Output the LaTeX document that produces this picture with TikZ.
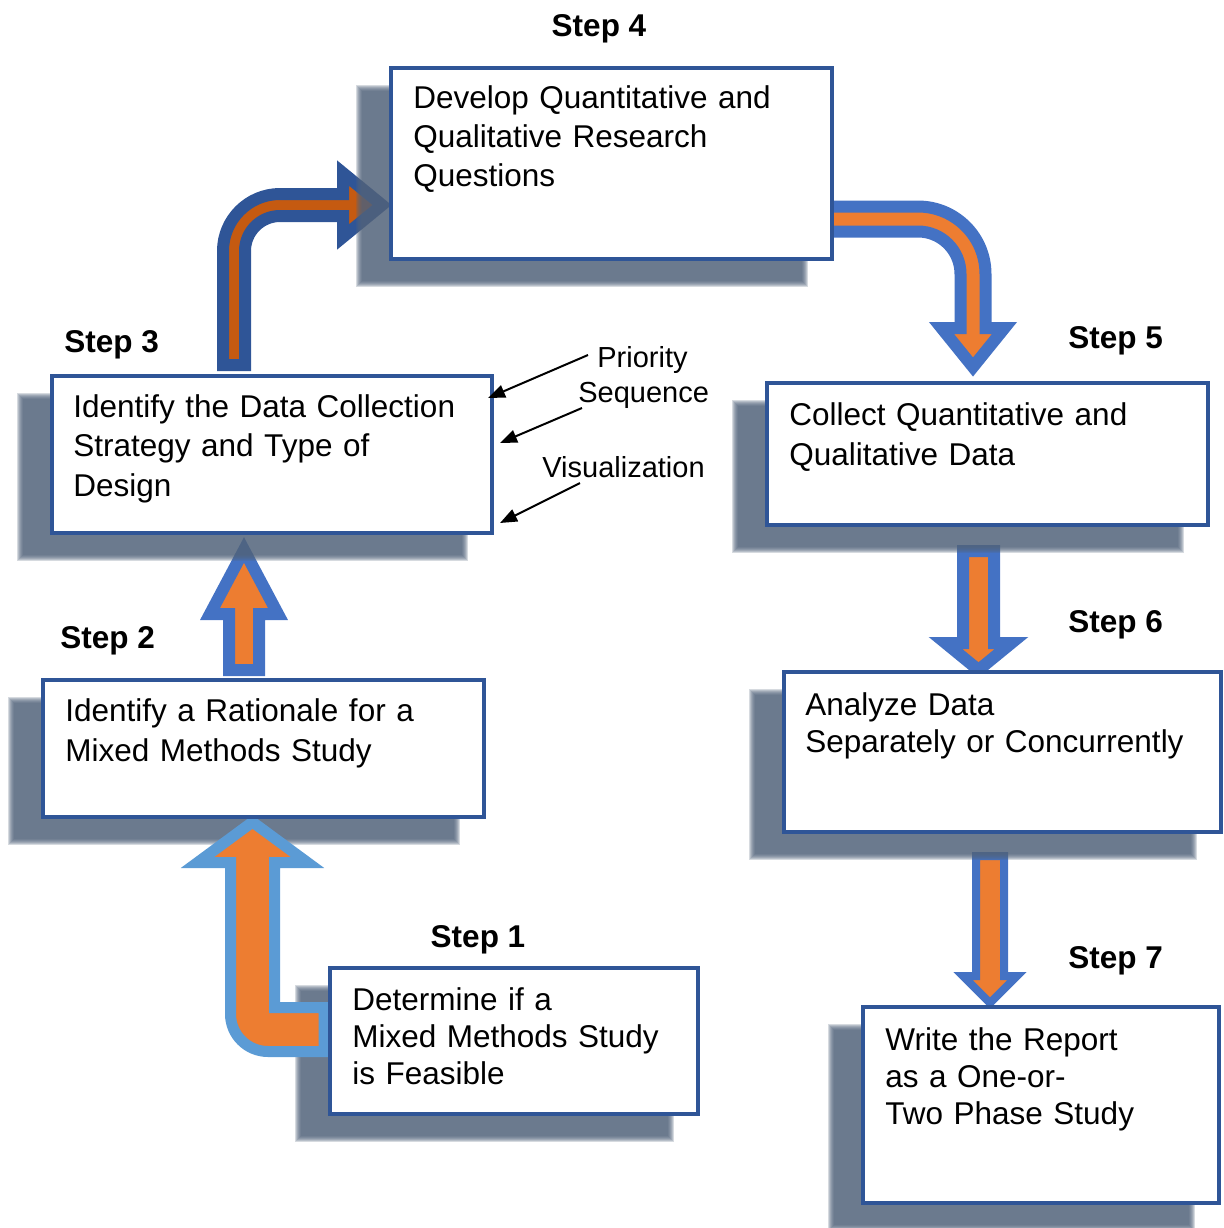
\documentclass[tikz,border=0pt]{standalone}
\usepackage{fontspec}
\setmainfont{Liberation Sans}
\usetikzlibrary{arrows.meta,fit}

\definecolor{boxline}{HTML}{2F5597}
\definecolor{shadowtone}{HTML}{52637B}
\definecolor{darkblue}{HTML}{2F5597}
\definecolor{darkorange}{HTML}{C55A11}
\definecolor{midblue}{HTML}{4472C4}
\definecolor{lightblue}{HTML}{5B9BD5}
\definecolor{accent}{HTML}{ED7D31}

\tikzset{
  stepbox/.style={rectangle, draw=boxline, line width=1.6pt, fill=white, inner sep=0pt},
  boxtext/.style={anchor=base west, inner sep=0pt, text width=230pt, align=left,
    font=\fontsize{15.75pt}{#1}\selectfont},
  boxtext/.default=19.5pt,
  steplabel/.style={inner sep=0pt, font=\fontsize{15.75pt}{19pt}\selectfont\bfseries},
  note/.style={anchor=base west, inner sep=0pt, font=\fontsize{14.5pt}{17pt}\selectfont},
  pointer/.style={draw=black, line width=1pt, -{Triangle[length=8.5pt,width=6.5pt]}},
  blockarrow/.style={line join=miter, miter limit=20},
}

% soft drop shadow behind a box given by its left, top, right, bottom
\newcommand\dropshade[4]{%
  \foreach \k in {0,...,6}{%
    \fill[shadowtone, opacity=0.24] (#1-29-\k, #2+23-\k) rectangle (#3-30+\k, #4+22+\k);
  }%
}

\begin{document}
\begin{tikzpicture}[x=0.5pt, y=-0.5pt]
\useasboundingbox (0,0) rectangle (1223,1228);

% ---- block arrows lying under the shadows ----
% Step 3 -> Step 4 (bent arrow)
\draw[blockarrow, draw=darkblue, fill=darkorange, line width=6pt]
  (223,365) -- (223,251) .. controls (223,219.5) and (248.5,194) .. (280,194)
  -- (343,194) -- (343,173) -- (382,205) -- (343,237) -- (343,216) -- (280,216)
  .. controls (260.7,216) and (245,231.7) .. (245,251) -- (245,365) -- cycle;

% Step 4 -> Step 5 (bent arrow)
\draw[blockarrow, draw=midblue, fill=accent, line width=6pt]
  (820,206.5) -- (918,206.5) .. controls (955.3,206.5) and (985.5,236.7) .. (985.5,274)
  -- (985.5,328) -- (1004.5,328) -- (973,367) -- (941.5,328) -- (960.5,328) -- (960.5,274)
  .. controls (960.5,250.5) and (941.5,231.5) .. (918,231.5) -- (820,231.5) -- cycle;

% Step 2 -> Step 3
\draw[blockarrow, draw=midblue, fill=accent, line width=6pt]
  (229,670) -- (229,614) -- (210,614) -- (244,550) -- (278,614) -- (259,614) -- (259,670) -- cycle;

% Step 5 -> Step 6
\draw[blockarrow, draw=midblue, fill=accent, line width=6pt]
  (963,551) -- (963,643) -- (945.5,643) -- (978.5,670) -- (1011.5,643) -- (994,643) -- (994,551) -- cycle;

% Step 6 -> Step 7
\draw[blockarrow, draw=midblue, fill=accent, line width=4pt]
  (976,856) -- (976,976) -- (963,976) -- (990,1003) -- (1017,976) -- (1004,976) -- (1004,856) -- cycle;

% ---- box shadows ----
\dropshade{391}{68}{832}{259}
\dropshade{52}{376}{492}{533}
\dropshade{767}{383}{1208}{525}
\dropshade{784}{672}{1221}{832}
\dropshade{863}{1007}{1219}{1203}
\dropshade{43}{680}{484}{817}
\dropshade{330}{968}{698}{1114}

% Step 1 -> Step 2 (bent-up arrow, above the shadows)
\draw[blockarrow, draw=lightblue, fill=accent, line width=5.5pt]
  (324,1007.5) -- (274.5,1007.5) -- (274.5,862.5) -- (307.5,862.5) -- (252.5,822)
  -- (197.5,862.5) -- (230.5,862.5) -- (230.5,1014)
  .. controls (230.5,1034.7) and (247.3,1051.5) .. (268,1051.5) -- (324,1051.5) -- cycle;

% ---- boxes ----
\node[stepbox, fit={(391,68) (832,259)}] (s4) {};
\node[stepbox, fit={(52,376) (492,533)}] (s3) {};
\node[stepbox, fit={(767,383) (1208,525)}] (s5) {};
\node[stepbox, fit={(784,672) (1221,832)}] (s6) {};
\node[stepbox, fit={(863,1007) (1219,1203)}] (s7) {};
\node[stepbox, fit={(43,680) (484,817)}] (s2) {};
\node[stepbox, fit={(330,968) (698,1114)}] (s1) {};

% ---- box texts ----
\node[boxtext=19.5pt] (t4) at (413,108) {Develop Quantitative and\\Qualitative Research\\Questions};
\node[boxtext=19.75pt] (t3) at (73,417) {Identify the Data Collection\\Strategy and Type of\\Design};
\node[boxtext=20pt] (t5) at (789,425) {Collect Quantitative and\\Qualitative Data};
\node[boxtext=18.5pt] (t6) at (805,715) {Analyze Data\\Separately or Concurrently};
\node[boxtext=18.5pt] (t7) at (885,1050) {Write the Report\\as a One-or-\\Two Phase Study};
\node[boxtext=20pt] (t2) at (65,721) {Identify a Rationale for a\\Mixed Methods Study};
\node[boxtext=18.5pt] (t1) at (352,1010) {Determine if a\\Mixed Methods Study\\is Feasible};

% ---- step labels ----
\node[steplabel, anchor=base] (l4) at (599,36) {Step 4};
\node[steplabel, anchor=base west] (l3) at (64,352) {Step 3};
\node[steplabel, anchor=base west] (l5) at (1068,348) {Step 5};
\node[steplabel, anchor=base west] (l6) at (1068,632) {Step 6};
\node[steplabel, anchor=base west] (l2) at (60,648) {Step 2};
\node[steplabel, anchor=base] (l1) at (478,947) {Step 1};
\node[steplabel, anchor=base west] (l7) at (1068,968) {Step 7};

% ---- design considerations pointing at Step 3 ----
\node[note] (pri) at (597,367) {Priority};
\node[note] (seq) at (578,402) {Sequence};
\node[note] (vis) at (542,477) {Visualization};
\coordinate (pri0) at (588,355);
\coordinate (seq0) at (582,408);
\coordinate (vis0) at (580,483);
\coordinate (pri1) at (488,398);
\coordinate (seq1) at (500,443);
\coordinate (vis1) at (500,523);
\draw[pointer] (pri0) -- (pri1);
\draw[pointer] (seq0) -- (seq1);
\draw[pointer] (vis0) -- (vis1);
\end{tikzpicture}
\end{document}
